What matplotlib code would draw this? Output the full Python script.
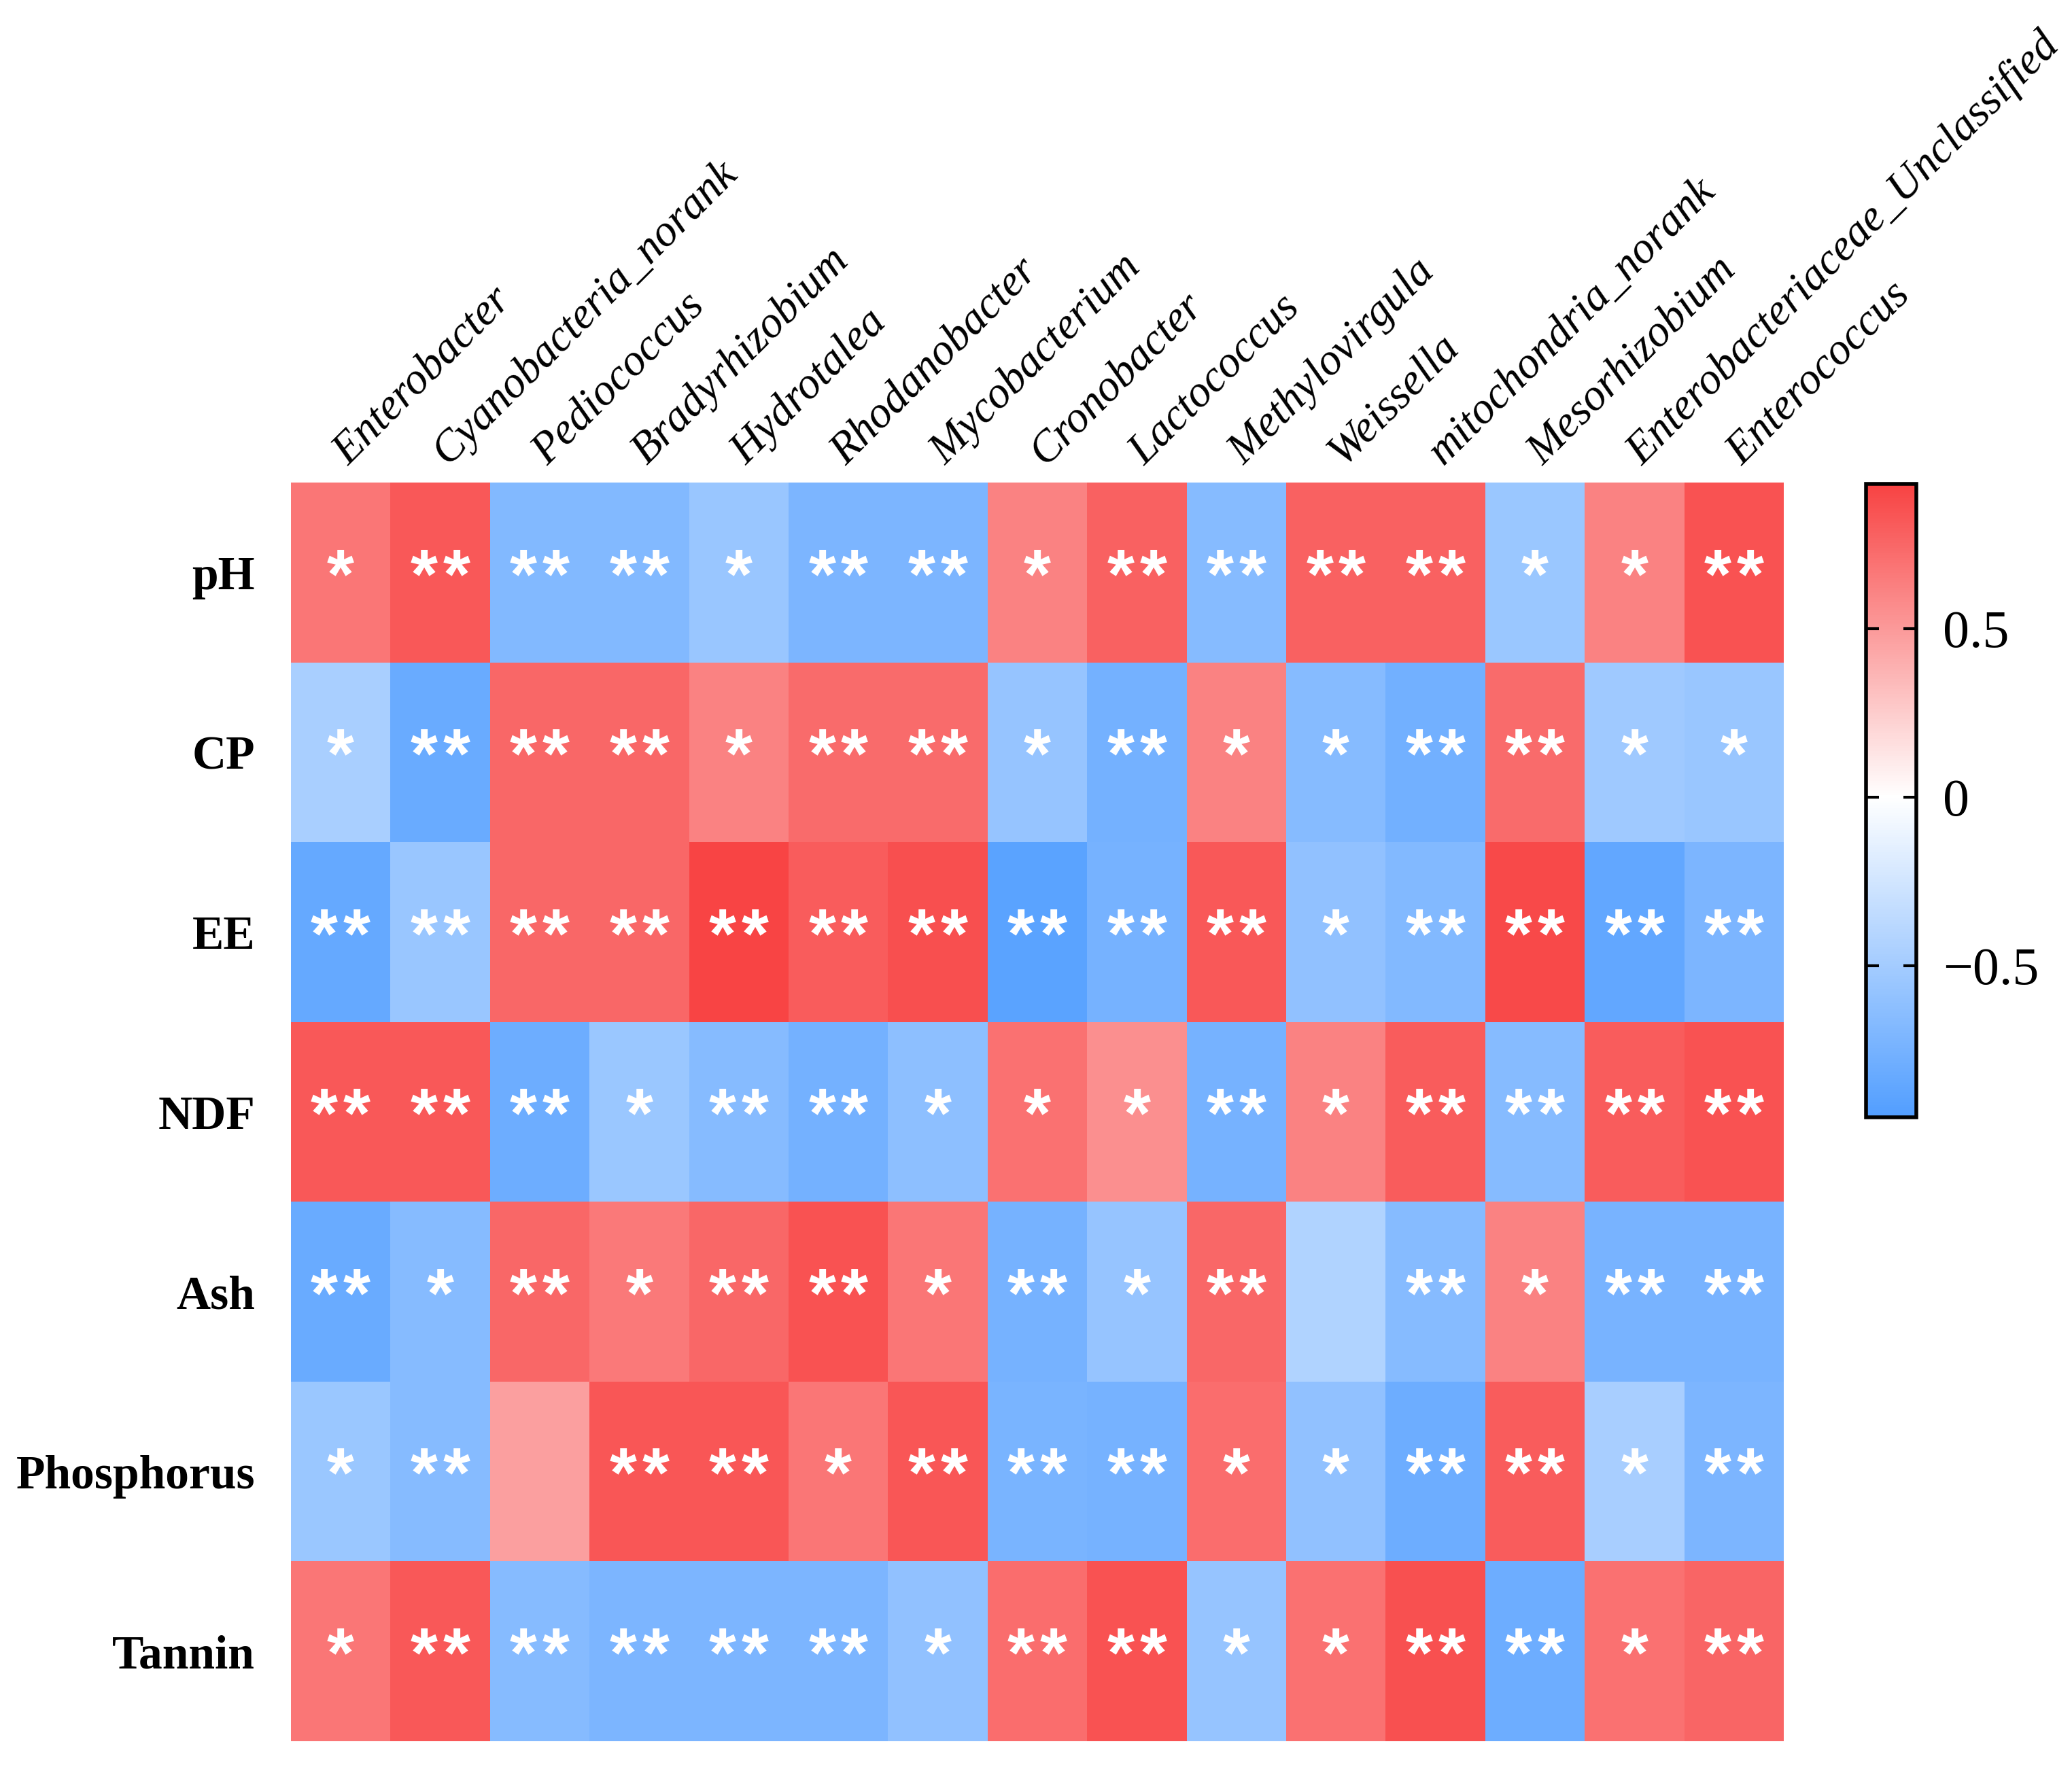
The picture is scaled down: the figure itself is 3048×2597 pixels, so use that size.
import numpy as np
import matplotlib
matplotlib.use("Agg")
import matplotlib.pyplot as plt
from matplotlib.colors import LinearSegmentedColormap, Normalize

genera = ["Enterobacter", "Cyanobacteria_norank", "Pediococcus", "Bradyrhizobium",
          "Hydrotalea", "Rhodanobacter", "Mycobacterium", "Cronobacter", "Lactococcus",
          "Methylovirgula", "Weissella", "mitochondria_norank", "Mesorhizobium",
          "Enterobacteriaceae_Unclassified", "Enterococcus"]
traits = ["pH", "CP", "EE", "NDF", "Ash", "Phosphorus", "Tannin"]

r_pH = [0.68, 0.82, -0.68, -0.68, -0.56, -0.72, -0.72, 0.62, 0.78, -0.66, 0.78, 0.78, -0.55, 0.62, 0.85]
r_CP = [-0.47, -0.82, 0.75, 0.75, 0.62, 0.73, 0.73, -0.57, -0.76, 0.62, -0.66, -0.77, 0.73, -0.53, -0.56]
r_EE = [-0.84, -0.56, 0.75, 0.75, 0.92, 0.80, 0.87, -0.90, -0.75, 0.82, -0.60, -0.68, 0.90, -0.86, -0.72]
r_NDF = [0.82, 0.82, -0.80, -0.55, -0.66, -0.76, -0.62, 0.70, 0.55, -0.75, 0.62, 0.80, -0.66, 0.80, 0.85]
r_Ash = [-0.82, -0.66, 0.75, 0.66, 0.75, 0.85, 0.68, -0.75, -0.57, 0.75, -0.43, -0.66, 0.62, -0.74, -0.74]
r_P = [-0.55, -0.66, 0.47, 0.83, 0.83, 0.68, 0.83, -0.73, -0.75, 0.72, -0.60, -0.80, 0.80, -0.48, -0.72]
r_Tan = [0.68, 0.82, -0.66, -0.72, -0.72, -0.72, -0.60, 0.72, 0.85, -0.57, 0.70, 0.86, -0.80, 0.70, 0.76]

s_pH = ["*", "**", "**", "**", "*", "**", "**", "*", "**", "**", "**", "**", "*", "*", "**"]
s_CP = ["*", "**", "**", "**", "*", "**", "**", "*", "**", "*", "*", "**", "**", "*", "*"]
s_EE = ["**", "**", "**", "**", "**", "**", "**", "**", "**", "**", "*", "**", "**", "**", "**"]
s_NDF = ["**", "**", "**", "*", "**", "**", "*", "*", "*", "**", "*", "**", "**", "**", "**"]
s_Ash = ["**", "*", "**", "*", "**", "**", "*", "**", "*", "**", "", "**", "*", "**", "**"]
s_P = ["*", "**", "", "**", "**", "*", "**", "**", "**", "*", "*", "**", "**", "*", "**"]
s_Tan = ["*", "**", "**", "**", "**", "**", "*", "**", "**", "*", "*", "**", "**", "*", "**"]

R = np.array([r_pH, r_CP, r_EE, r_NDF, r_Ash, r_P, r_Tan])
S = [s_pH, s_CP, s_EE, s_NDF, s_Ash, s_P, s_Tan]

vmin, vmax = -0.95, 0.93
mid = -vmin / (vmax - vmin)
cmap = LinearSegmentedColormap.from_list(
    "rb", [(0.0, "#529EFF"), (mid, "#FFFFFF"), (1.0, "#F84343")])
norm = Normalize(vmin=vmin, vmax=vmax)

serif = ["Liberation Serif", "DejaVu Serif"]

fig = plt.figure(figsize=(30.48, 25.97), dpi=100)
ax = fig.add_axes([0.1404, 0.0135, 0.7205, 0.713])
im = ax.pcolormesh(np.arange(len(genera) + 1), np.arange(len(traits) + 1), R,
                   cmap=cmap, norm=norm, edgecolor="none")
ax.set_xlim(0, len(genera))
ax.set_ylim(len(traits), 0)
for sp in ax.spines.values():
    sp.set_visible(False)

ax.set_xticks(np.arange(len(genera)) + 0.5)
ax.set_xticklabels(genera, rotation=45, ha="left", va="center",
                   rotation_mode="anchor", family=serif, style="italic", fontsize=47)
ax.xaxis.tick_top()
ax.tick_params(axis="x", length=0, pad=26)
ax.set_yticks(np.arange(len(traits)) + 0.5)
ax.set_yticklabels(traits, family=serif, fontweight="bold", fontsize=50)
ax.tick_params(axis="y", length=0, pad=38)

star_gap = 34.5  # points between asterisk centres
for i in range(len(traits)):
    for j in range(len(genera)):
        n = len(S[i][j])
        for k in range(n):
            dx = (k - (n - 1) / 2) * star_gap
            ax.annotate("*", xy=(j + 0.5, i + 0.5), xytext=(dx, -27),
                        textcoords="offset points", ha="center", va="baseline",
                        color="white", fontsize=74, fontweight="bold",
                        family=["Liberation Sans", "DejaVu Sans"])

cax = fig.add_axes([0.9006, 0.367, 0.0243, 0.359])
cb = fig.colorbar(im, cax=cax)
cb.set_ticks([-0.5, 0, 0.5])
cb.set_ticklabels(["\u22120.5", "0", "0.5"])
cb.outline.set_linewidth(4)
cax.tick_params(axis="y", direction="in", length=14, width=3, left=True, right=True,
                pad=28, labelsize=56)
for lab in cax.get_yticklabels():
    lab.set_family(serif)

fig.savefig("out.png", dpi=100)
